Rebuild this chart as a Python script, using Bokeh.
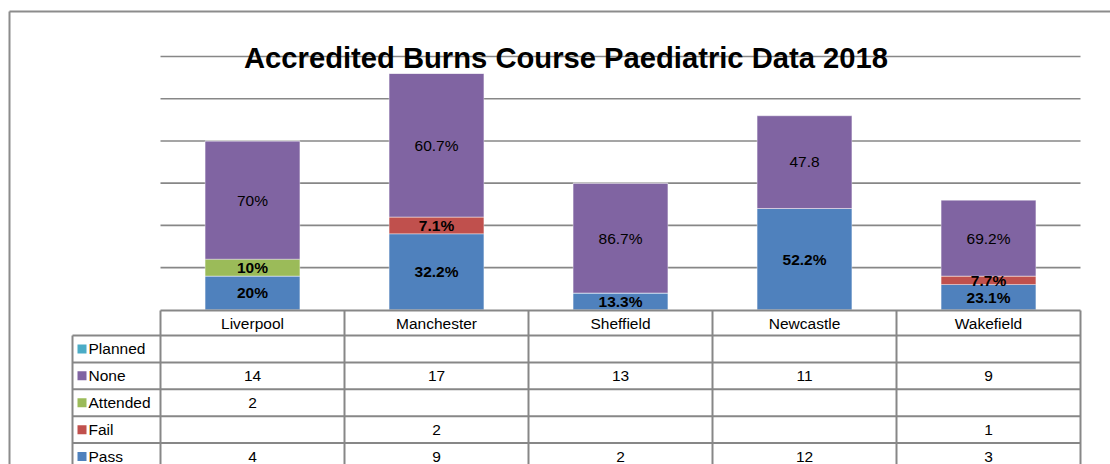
import numpy as np
from bokeh.plotting import figure
from bokeh.models import Range1d, ColumnDataSource
from bokeh.core.properties import value
from bokeh.embed import file_html
from bokeh.resources import INLINE

# ---------------- data ----------------
title_text = "Accredited Burns Course Paediatric Data 2018"
categories = ["Liverpool", "Manchester", "Sheffield", "Newcastle", "Wakefield"]
series = ["Pass", "Fail", "Attended", "None", "Planned"]          # bottom -> top
pass_vals = [4, 9, 2, 12, 3]
fail_vals = [0, 2, 0, 0, 1]
attended_vals = [2, 0, 0, 0, 0]
none_vals = [14, 17, 13, 11, 9]
planned_vals = [0, 0, 0, 0, 0]

pass_labels = ["20%", "32.2%", "13.3%", "52.2%", "23.1%"]
fail_labels = ["", "7.1%", "", "", "7.7%"]
attended_labels = ["10%", "", "", "", ""]
none_labels = ["70%", "60.7%", "86.7%", "47.8", "69.2%"]
planned_labels = ["", "", "", "", ""]

grid_ticks = [5, 10, 15, 20, 25, 30]

colors = {"Pass": "#4F81BD", "Fail": "#C0504D", "Attended": "#9BBB59",
          "None": "#8064A2", "Planned": "#4BACC6"}
bold = {"Pass": "bold", "Fail": "bold", "Attended": "bold", "None": "normal", "Planned": "normal"}

vals = {"Pass": pass_vals, "Fail": fail_vals, "Attended": attended_vals,
        "None": none_vals, "Planned": planned_vals}
labels = {"Pass": pass_labels, "Fail": fail_labels, "Attended": attended_labels,
          "None": none_labels, "Planned": planned_labels}

# ---------------- layout helpers (pixel -> data) ----------------
W, H = 1110, 464
OFF = 0                              # canvas offset on the page
PLOT_L, CAT_W = 160.0, 184.0         # page px of plot-area left, px per category
BASE, PX_V = 309.3, 8.443            # page px of value 0, px per unit


def ux(px):
    return (px - PLOT_L) / CAT_W


def vy(py):
    return (BASE - py) / PX_V


FONT = value("Liberation Sans")
GRID_C = "#878787"

p = figure(width=W, height=H, x_range=Range1d(ux(OFF), ux(OFF + W)),
           y_range=Range1d(vy(OFF + H), vy(OFF)), x_axis_type=None, y_axis_type=None,
           output_backend="svg", toolbar_location=None, min_border=0,
           outline_line_color=None, background_fill_color="white",
           border_fill_color="white")

n = len(categories)
xs = np.arange(n) + 0.5

# gridlines
p.segment(x0=[0] * len(grid_ticks), x1=[n] * len(grid_ticks), y0=grid_ticks, y1=grid_ticks,
          line_color=GRID_C, line_width=1.6)

# stacked bars
src = ColumnDataSource(dict(x=xs, **{s: vals[s] for s in series}))
p.vbar_stack(series, x="x", width=0.515, source=src,
             fill_color=[colors[s] for s in series],
             line_color="white", line_alpha=0.35, line_width=1)

# data labels
bottom = np.zeros(n)
for s in series:
    v = np.array(vals[s], dtype=float)
    mid = bottom + v / 2
    keep = [i for i in range(n) if labels[s][i]]
    if keep:
        p.text(x=[xs[i] for i in keep], y=[mid[i] for i in keep],
               text=[labels[s][i] for i in keep], text_font=FONT,
               text_font_size="15.5px", text_font_style=bold[s],
               text_align="center", text_baseline="middle", text_color="#000000")
    bottom = bottom + v

# title
p.text(x=[ux(565.5)], y=[vy(57.5)], text=[title_text], text_font=FONT,
       text_font_size="29.2px", text_font_style="bold", text_align="center",
       text_baseline="alphabetic", text_color="#000000")

# outer chart border
p.segment(x0=[ux(9), ux(9)], y0=[vy(11), vy(11)], x1=[ux(9), ux(OFF + W)], y1=[vy(OFF + H), vy(11)],
          line_color="#8C8C8C", line_width=2)

# ---------------- data table ----------------
HDR_T, HDR_B, ROW_H = 310.0, 335.0, 26.9
LEG_L = 72.0
rows = series[::-1]  # Planned, None, Attended, Fail, Pass
row_edges = [HDR_B + k * ROW_H for k in range(len(rows) + 1)]

# horizontal lines
hx0 = [ux(PLOT_L)] + [ux(LEG_L)] * len(row_edges)
hx1 = [n] * (len(row_edges) + 1)
hy = [vy(HDR_T)] + [vy(e) for e in row_edges]
p.segment(x0=hx0, x1=hx1, y0=hy, y1=hy, line_color=GRID_C, line_width=2)
# vertical lines
vx = [ux(LEG_L)] + list(range(n + 1))
vy0 = [vy(HDR_B)] + [vy(HDR_T)] * (n + 1)
vy1 = [vy(row_edges[-1])] * (n + 2)
p.segment(x0=vx, x1=vx, y0=vy0, y1=vy1, line_color=GRID_C, line_width=2)

# header labels
p.text(x=xs, y=[vy((HDR_T + HDR_B) / 2)] * n, text=categories, text_font=FONT,
       text_font_size="15.5px", text_align="center", text_baseline="middle",
       text_color="#000000")

# rows
for k, s in enumerate(rows):
    cy = vy((row_edges[k] + row_edges[k + 1]) / 2)
    p.scatter(x=[ux(81.5)], y=[cy], marker="square", size=9,
              fill_color=colors[s], line_color=None)
    p.text(x=[ux(88)], y=[cy], text=[s], text_font=FONT, text_font_size="15.5px",
           text_align="left", text_baseline="middle", text_color="#000000")
    cells = [str(v) if v else "" for v in vals[s]]
    keep = [i for i in range(n) if cells[i]]
    if keep:
        p.text(x=[xs[i] for i in keep], y=[cy] * len(keep), text=[cells[i] for i in keep],
               text_font=FONT, text_font_size="15.5px", text_align="center",
               text_baseline="middle", text_color="#000000")

open("out.html", "w").write(file_html(p, INLINE))
